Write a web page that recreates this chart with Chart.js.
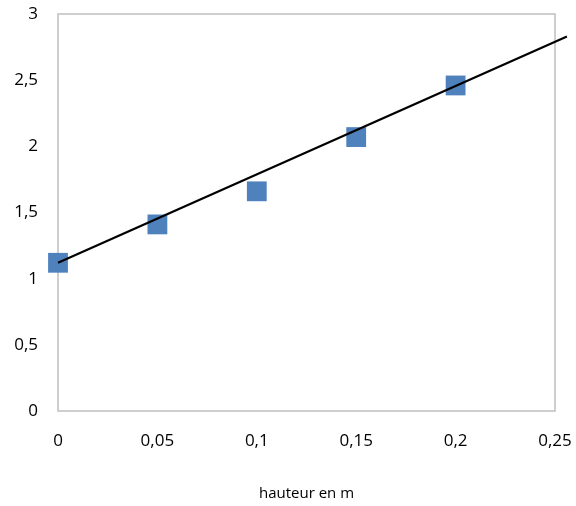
<!DOCTYPE html>
<html>
<head>
<meta charset="utf-8">
<script src="https://cdn.jsdelivr.net/npm/chart.js@4/dist/chart.umd.min.js"></script>
<style>
  html, body { margin: 0; padding: 0; background: #fff; }
  #wrap { width: 576px; height: 506px; }
</style>
</head>
<body>
<div id="wrap"><canvas id="chart"></canvas></div>
<script>
const hauteurs = [0, 0.05, 0.1, 0.15, 0.2];
const valeurs  = [1.12, 1.41, 1.66, 2.07, 2.46];
const trendX   = [0, 0.256];
const trendY   = [1.12, 2.83];

const FAMILY = "'Open Sans', 'DejaVu Sans', sans-serif";
const TICK_FONT  = { family: FAMILY, size: 17 };
const TITLE_FONT = { family: FAMILY, size: 15 };
const fmt = v => Number(v.toFixed(2)).toString().replace('.', ',');

// cadre gris autour de la zone de tracé
const frame = {
  id: 'frame',
  beforeDatasetsDraw(chart) {
    const { ctx, chartArea: a } = chart;
    ctx.save();
    ctx.strokeStyle = '#bfbfbf';
    ctx.lineWidth = 1.5;
    ctx.strokeRect(a.left, a.top, a.right - a.left, a.bottom - a.top);
    ctx.restore();
  },
};

new Chart(document.getElementById('chart'), {
  type: 'scatter',
  data: {
    datasets: [
      {
        label: 'tendance',
        data: trendX.map((x, i) => ({ x, y: trendY[i] })),
        showLine: true,
        borderColor: '#000',
        borderWidth: 2.2,
        pointRadius: 0,
        clip: false,
        order: 0,
      },
      {
        label: 'mesures',
        data: hauteurs.map((x, i) => ({ x, y: valeurs[i] })),
        pointStyle: 'rect',
        pointRadius: 14,
        backgroundColor: '#4f81bd',
        borderColor: '#4f81bd',
        borderWidth: 0,
        clip: false,
        order: 1,
      },
    ],
  },
  options: {
    responsive: true, maintainAspectRatio: false, animation: false,
    layout: { padding: 0 },
    plugins: { legend: { display: false }, tooltip: { enabled: false } },
    scales: {
      x: {
        type: 'linear', min: 0, max: 0.25,
        grid: { display: false, drawTicks: false },
        border: { display: false },
        ticks: { stepSize: 0.05, color: '#000', font: TICK_FONT, padding: 20, callback: fmt, maxRotation: 0 },
        title: { display: true, text: 'hauteur en m', color: '#000', font: TITLE_FONT, padding: { top: 0, bottom: 3 } },
        afterFit: s => { s.height = 95; s.paddingLeft = 0; s.paddingRight = 21; },
      },
      y: {
        min: 0, max: 3,
        grid: { display: false, drawTicks: false },
        border: { display: false },
        ticks: { stepSize: 0.5, color: '#000', font: TICK_FONT, padding: 20, callback: fmt },
        afterFit: s => { s.width = 58; s.paddingTop = 14; s.paddingBottom = 0; },
      },
    },
  },
  plugins: [frame],
});
</script>
</body>
</html>
